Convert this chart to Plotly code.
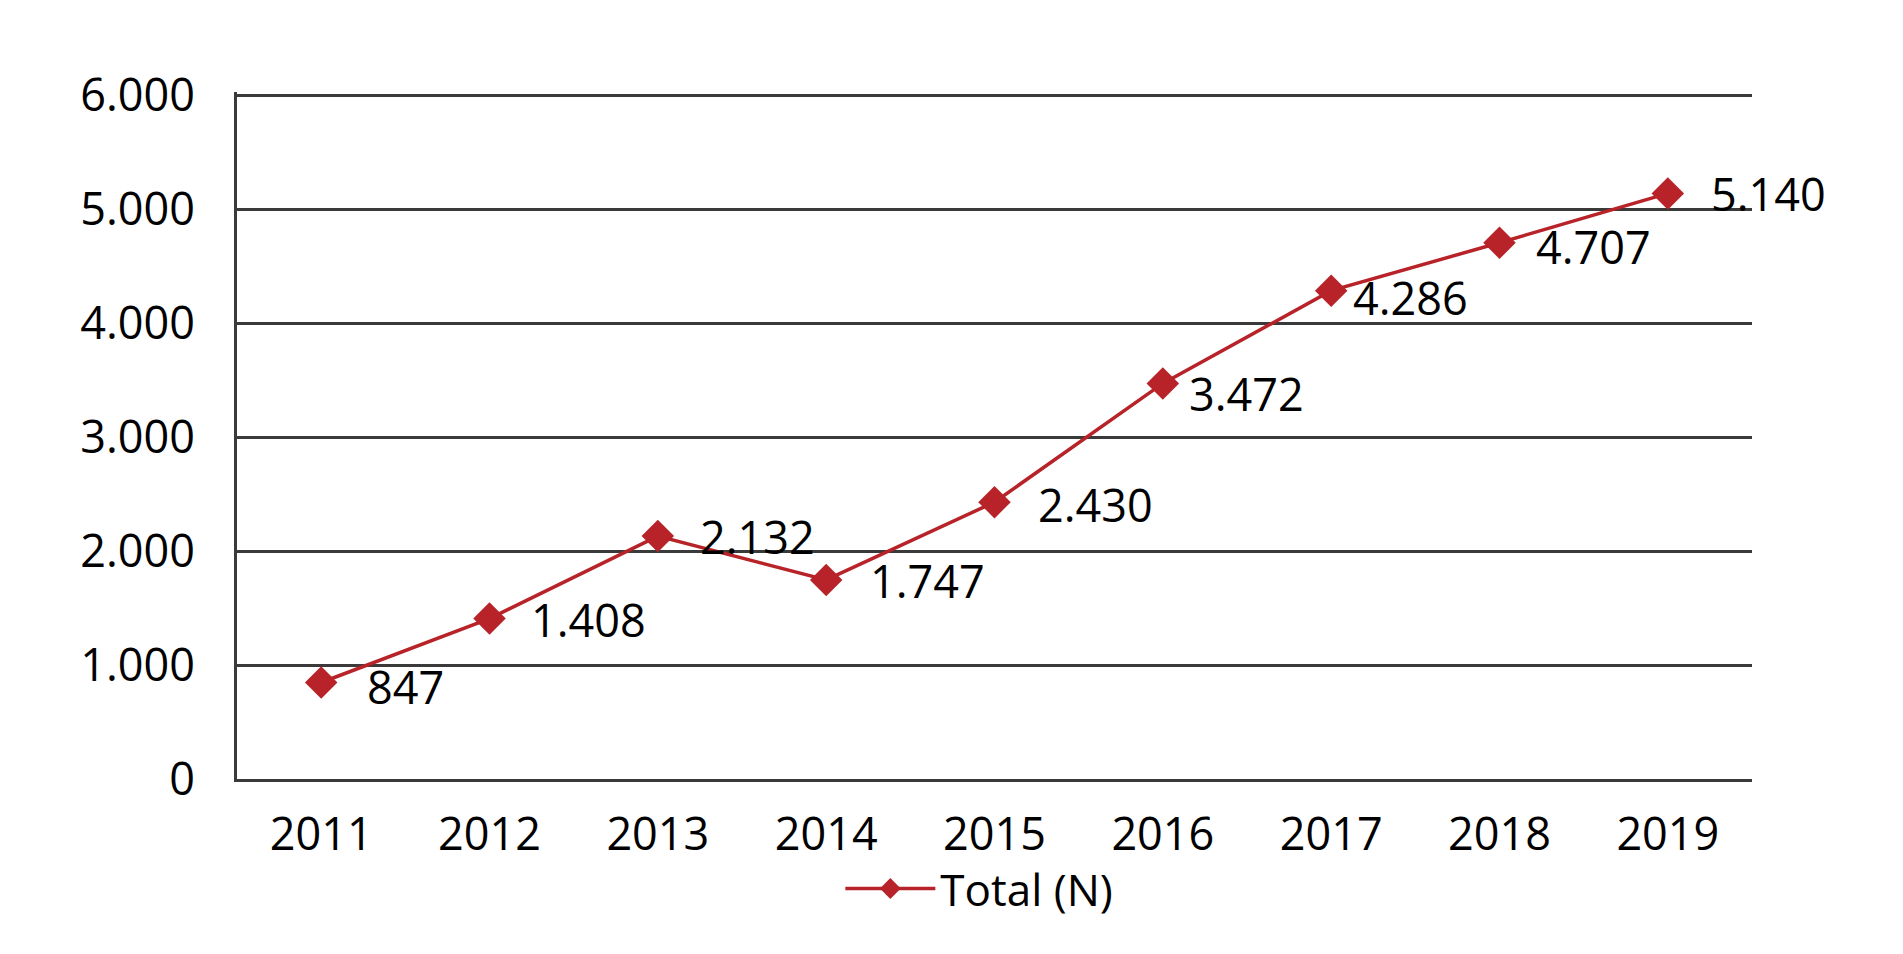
import plotly.graph_objects as go

# Chart data
years = ['2011', '2012', '2013', '2014', '2015', '2016', '2017', '2018', '2019']
totals = [847, 1408, 2132, 1747, 2430, 3472, 4286, 4707, 5140]
labels = ['847', '1.408', '2.132', '1.747', '2.430', '3.472', '4.286', '4.707', '5.140']
y_ticks = [0, 1000, 2000, 3000, 4000, 5000, 6000]
y_tick_text = ['0', '1.000', '2.000', '3.000', '4.000', '5.000', '6.000']

# Label nudges in pixels (dx, dy) as placed in the original
label_dx = [44, 39, 40, 42, 41, 24, 20, 34, 41]
label_dy = [-4, -1, 0, -1, -2, -10, -7, -4, 0]

RED = '#B72328'
GRID = '#3A3A3A'
FONT = dict(family='Open Sans', size=45, color='#000000')

fig = go.Figure()

fig.add_trace(go.Scatter(
    x=years, y=totals, name='Total (N)', mode='lines+markers',
    line=dict(color=RED, width=3.5),
    marker=dict(symbol='diamond', size=25, color=RED)))

# Data labels to the right of each point
for i, (t, y) in enumerate(zip(labels, totals)):
    fig.add_annotation(x=i, y=y, xref='x', yref='y', text=t, showarrow=False,
                       xanchor='left', yanchor='middle',
                       xshift=label_dx[i], yshift=label_dy[i], font=FONT)

fig.update_layout(
    width=1903, height=954,
    margin=dict(l=229, r=159, t=84, b=183),
    paper_bgcolor='white', plot_bgcolor='white',
    font=FONT,
    showlegend=True,
    legend=dict(orientation='h', x=0.49, xanchor='center', y=-0.16, yanchor='middle',
                bgcolor='rgba(0,0,0,0)', itemwidth=90,
                font=dict(family='Open Sans', size=44, color='#000000')),
)

fig.update_xaxes(
    type='category', range=[-0.5, 8.5],
    showgrid=False, showline=True, linecolor=GRID, linewidth=3, zeroline=False,
    ticks='', ticklabelstandoff=14, tickfont=FONT)

# range runs a little past 6000 so the top grid line is drawn
fig.update_yaxes(
    range=[0, 6030], tickvals=y_ticks, ticktext=y_tick_text,
    showgrid=True, gridcolor=GRID, gridwidth=3,
    showline=True, linecolor=GRID, linewidth=3,
    zeroline=False, ticks='', ticklabelstandoff=30, tickfont=FONT)

fig.write_html('out.html')
